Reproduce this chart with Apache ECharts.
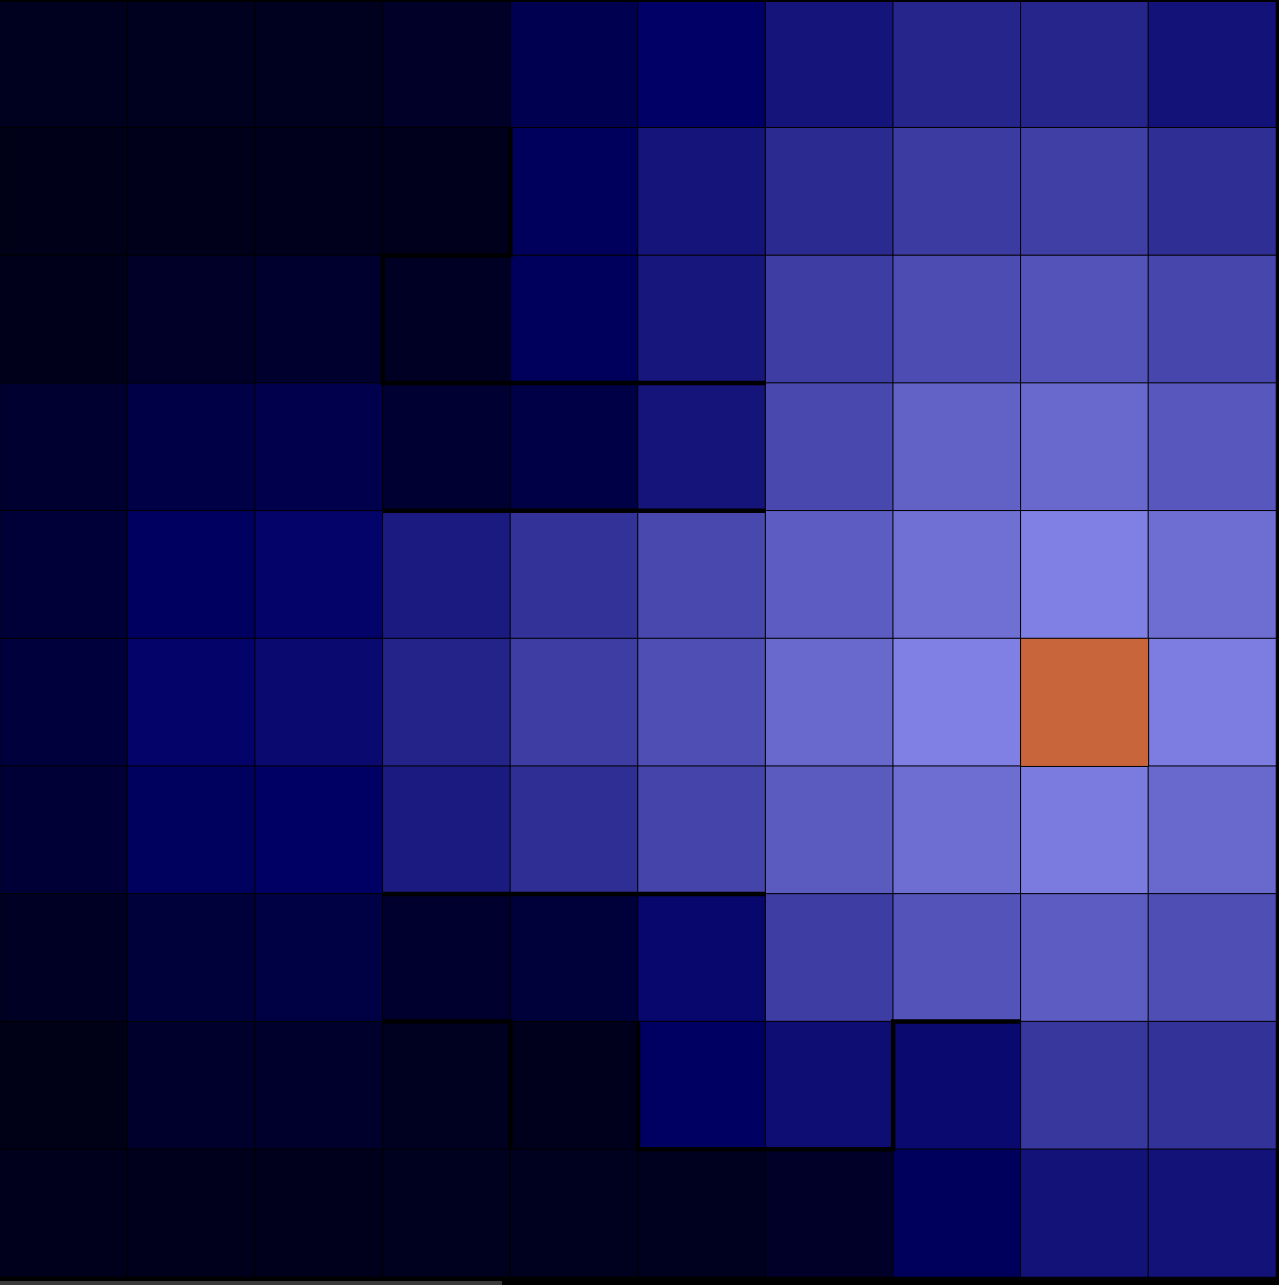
<!DOCTYPE html>
<html>
<head>
<meta charset="utf-8">
<script src="https://cdn.jsdelivr.net/npm/echarts@6/dist/echarts.min.js"></script>
<style>
  html, body { margin: 0; padding: 0; background: #000; }
  #chart { width: 1279px; height: 1285px; }
</style>
</head>
<body>
<div id="chart"></div>
<script>
// grid of intensities, row 0 at the top
const cols = ['0', '1', '2', '3', '4', '5', '6', '7', '8', '9'];
const rows = ['0', '1', '2', '3', '4', '5', '6', '7', '8', '9'];
const values = [
  [6, 6, 6, 10, 29, 39, 48, 56, 56, 47],
  [3, 4, 5, 5, 34, 48, 58, 66, 68, 60],
  [4, 10, 13, 9, 34, 49, 67, 74, 77, 71],
  [14, 24, 27, 15, 24, 48, 72, 83, 86, 79],
  [18, 36, 40, 51, 62, 72, 81, 89, 96, 88],
  [20, 40, 43, 55, 67, 75, 86, 96, 100, 95],
  [17, 35, 38, 51, 60, 70, 80, 88, 94, 86],
  [9, 19, 23, 13, 19, 42, 67, 77, 81, 75],
  [2, 12, 12, 7, 5, 37, 45, 43, 64, 62],
  [5, 5, 5, 6, 6, 6, 10, 34, 47, 47]
];
// highlighted peak cell [col, row]
const peak = [8, 5];
// boundary polylines along cell edges (col edge, row edge)
const walls = [
  [[4, 1], [4, 2], [3, 2], [3, 3], [6, 3]],
  [[3, 4], [6, 4]],
  [[3, 7], [6, 7]],
  [[3, 8], [4, 8], [4, 9]],
  [[5, 8], [5, 9], [7, 9], [7, 8], [8, 8]]
];

const cells = [];
values.forEach((r, y) => r.forEach((v, x) => {
  if (x === peak[0] && y === peak[1]) return;
  cells.push([x, y, v]);
}));

const gridPos = { left: 0, right: 3, top: 0, bottom: 8 };

const chart = echarts.init(document.getElementById('chart'));
chart.setOption({
  backgroundColor: '#000',
  animation: false,
  grid: [Object.assign({}, gridPos), Object.assign({}, gridPos)],
  xAxis: [
    { type: 'category', data: cols, gridIndex: 0, show: false },
    { type: 'value', min: 0, max: 10, gridIndex: 1, show: false }
  ],
  yAxis: [
    { type: 'category', data: rows, gridIndex: 0, inverse: true, show: false },
    { type: 'value', min: 0, max: 10, gridIndex: 1, inverse: true, show: false }
  ],
  visualMap: {
    show: false,
    seriesIndex: 0,
    min: 0,
    max: 97,
    inRange: { color: ['#000012', '#00003c', '#000066', '#2a2a90', '#5454ba', '#8282e6'] }
  },
  graphic: [
    {
      type: 'rect', left: 0, top: 0, z: 100,
      shape: { width: 1279, height: 2 },
      style: { fill: '#000' }
    },
    {
      type: 'rect', left: 0, bottom: 0,
      shape: { width: 502, height: 4 },
      style: { fill: '#3a3a3a' }
    }
  ],
  series: [
    {
      type: 'heatmap',
      xAxisIndex: 0, yAxisIndex: 0,
      data: cells,
      itemStyle: { borderColor: '#000', borderWidth: 1 }
    },
    {
      type: 'heatmap',
      xAxisIndex: 0, yAxisIndex: 0,
      data: [[peak[0], peak[1], values[peak[1]][peak[0]]]],
      itemStyle: { color: '#c8653a', borderColor: '#000', borderWidth: 1 }
    },
    {
      type: 'lines',
      coordinateSystem: 'cartesian2d',
      xAxisIndex: 1, yAxisIndex: 1,
      polyline: true,
      data: walls.map(w => ({ coords: w })),
      lineStyle: { color: '#000', width: 4.5, opacity: 1 }
    }
  ]
});
</script>
</body>
</html>
